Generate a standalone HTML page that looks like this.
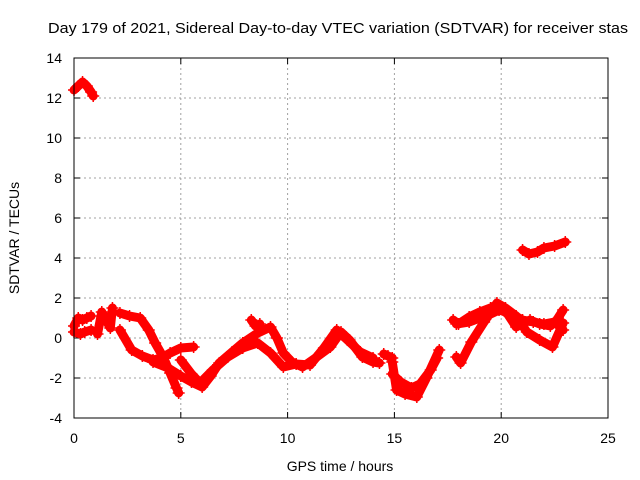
<!DOCTYPE html>
<html><head><meta charset="utf-8"><style>
body{margin:0;background:#fff}
svg{display:block;font-family:"Liberation Sans",sans-serif}
</style></head><body>
<svg id="c" width="640" height="480">
<text x="48" y="33" font-size="14.5" textLength="580" lengthAdjust="spacingAndGlyphs" fill="#000">Day 179 of 2021, Sidereal Day-to-day VTEC variation (SDTVAR) for receiver stas</text>
<g id="grid"></g><g id="ticks"></g><g id="marks"></g>
<rect x="74" y="58" width="534" height="360" fill="none" stroke="#000" stroke-width="1"/>
<text x="340" y="471" font-size="14" text-anchor="middle">GPS time / hours</text>
<text transform="translate(19,238) rotate(-90)" font-size="14" text-anchor="middle">SDTVAR / TECUs</text>
</svg>
<script>
const xTicks=[0,5,10,15,20,25];
const yTicks=[-4,-2,0,2,4,6,8,10,12,14];
const trackNames=["a","b","c1","c2","c3","c4","c5","c6","c7","c8","c9","c10","c11","c12","c13","c14"];
const trackTimes=[
 [0,0.2,0.4,0.6,0.8,0.9],
 [21,21.3,21.7,22,22.5,23],
 [0,0.2,0.4,0.6,0.8],
 [0,0.3,0.5,0.8],
 [1.1,1.3,1.5,1.7,1.8],
 [2.15,2.6,3.1,3.5,3.8,4.2,4.5,4.8,4.9],
 [2.15,2.7,3.2,3.7,4.1,4.5,5.0,5.6],
 [3.7,4.4,5.0,5.5,6.0,6.4,6.8,7.4,7.9,8.6,9.2,9.5,9.8,10.2,10.7,11.3,12.0,12.5,12.9,13.5,14.0,14.3],
 [5.0,5.5,5.9,6.5,7.2,7.9,8.6,9.2,9.8,10.4,11.05,11.7,12.3,12.8,13.4,14.0],
 [14.9,15.1,15.5,16.05,16.5,17.1],
 [14.9,15.3,15.8,16.2,16.7,17.0],
 [17.75,18.0,18.5,19.0,19.5,19.9,20.3,20.7,21.35,21.8,22.3,22.6,22.9],
 [17.9,18.1,18.6,19.2,19.8,20.2,20.7,21.2,21.8,22.4,22.9],
 [17.9,18.5,19.0,19.5,19.9,20.5,21.0,21.5,22.0,22.5,22.9],
 [8.3,8.5,8.7],
 [14.5,14.7,14.9]
];
const trackValues=[
 [12.4,12.6,12.8,12.6,12.3,12.1],
 [4.4,4.2,4.3,4.5,4.6,4.8],
 [0.6,1.0,0.9,1.0,1.1],
 [0.3,0.2,0.3,0.4],
 [0.2,1.3,0.9,0.5,1.5],
 [1.25,1.1,1.0,0.4,-0.25,-1.0,-1.75,-2.5,-2.75],
 [0.4,-0.6,-0.9,-1.1,-1.0,-0.75,-0.5,-0.45],
 [-1.2,-1.5,-1.9,-2.2,-2.45,-1.9,-1.25,-0.7,-0.25,0.25,0.55,0.0,-0.75,-1.2,-1.45,-1.0,-0.45,0.3,-0.1,-0.95,-1.2,-1.25],
 [-1.1,-1.8,-2.25,-1.6,-0.95,-0.5,-0.25,-0.75,-1.45,-1.3,-1.35,-0.5,0.4,-0.1,-0.7,-1.0],
 [-1.2,-2.6,-2.8,-2.95,-2.0,-0.6],
 [-1.8,-2.2,-2.5,-2.3,-1.6,-1.0],
 [0.9,0.7,1.05,1.3,1.5,1.55,1.2,0.55,0.9,0.7,0.6,0.9,1.4],
 [-0.95,-1.25,-0.2,0.8,1.75,1.5,1.1,0.3,-0.1,-0.45,0.75],
 [0.7,0.8,1.0,1.2,1.4,1.2,0.9,0.8,0.7,0.8,0.4]
 ,[0.9,0.6,0.7]
 ,[-0.8,-0.9,-1.0]
];
const X0=74,X1=608,Y0=418,Y1=58;
const sx=t=>X0+(t-0)/(25-0)*(X1-X0);
const sy=v=>Y0-(v+4)/(14+4)*(Y0-Y1);
const NS="http://www.w3.org/2000/svg";
const mk=(tag,attrs,parent)=>{const e=document.createElementNS(NS,tag);for(const k in attrs)e.setAttribute(k,attrs[k]);parent.appendChild(e);return e;};
const grid=document.getElementById('grid'),ticks=document.getElementById('ticks'),marks=document.getElementById('marks');
xTicks.forEach(t=>{const x=sx(t);
 if(t>0&&t<25){const l=mk('line',{x1:x,x2:x,y1:Y1,y2:Y0,stroke:'#a0a0a0','stroke-dasharray':'2,3'},grid);
 
 }
 mk('line',{x1:x,x2:x,y1:Y0,y2:Y0-6,stroke:'#000'},ticks);
 mk('line',{x1:x,x2:x,y1:Y1,y2:Y1+6,stroke:'#000'},ticks);
 const tx=mk('text',{x:x,y:443,'font-size':14,'text-anchor':'middle'},ticks);tx.textContent=t;
 
 
});
yTicks.forEach(v=>{const y=sy(v);
 if(v>-4&&v<14){const l=mk('line',{x1:X0,x2:X1,y1:y,y2:y,stroke:'#a0a0a0','stroke-dasharray':'2,3'},grid);
 
 }
 mk('line',{x1:X0,x2:X0+6,y1:y,y2:y,stroke:'#000'},ticks);
 mk('line',{x1:X1,x2:X1-6,y1:y,y2:y,stroke:'#000'},ticks);
 const tx=mk('text',{x:62,y:y+5,'font-size':14,'text-anchor':'end'},ticks);tx.textContent=v;
 
 
});
trackTimes.forEach((ts,i)=>{
 const vs=trackValues[i];
 const pts=ts.map((t,j)=>sx(t)+','+sy(vs[j])).join(' ');
 const pl=mk('polyline',{points:pts,fill:'none',stroke:'#ff0000','stroke-width':9,'stroke-linejoin':'round','stroke-linecap':'round'},marks);
 
 
 ts.forEach((t,j)=>{const x=sx(t),y=sy(vs[j]);
  const p=mk('path',{d:`M${x-6},${y}H${x+6}M${x},${y-6}V${y+6}`,stroke:'#ff0000','stroke-width':1.5},marks);
  
  
 });
});
</script>
</body></html>
